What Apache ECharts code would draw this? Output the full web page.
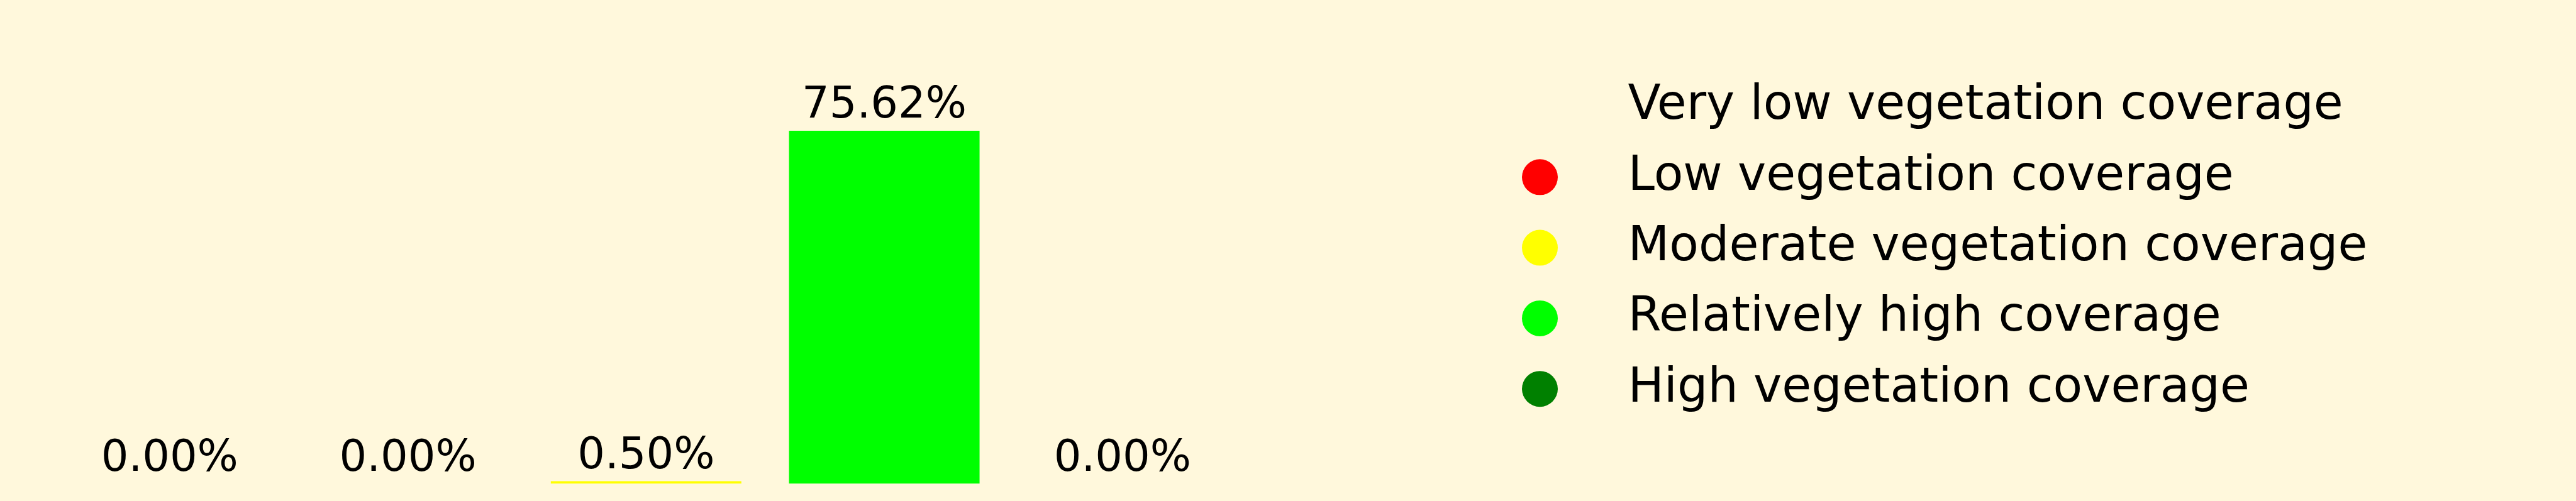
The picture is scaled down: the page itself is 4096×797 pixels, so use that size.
<!DOCTYPE html>
<html>
<head>
<meta charset="utf-8">
<script src="https://cdn.jsdelivr.net/npm/echarts@6/dist/echarts.min.js"></script>
<style>
html,body{margin:0;padding:0;background:#FFF8DC;}
#main{width:4096px;height:797px;}
</style>
</head>
<body>
<div id="main"></div>
<script>
var categories = ['Very low vegetation coverage', 'Low vegetation coverage', 'Moderate vegetation coverage', 'Relatively high coverage', 'High vegetation coverage'];
var values = [0.00, 0.00, 0.50, 75.62, 0.00];
var colors = ['#FFF8DC', '#FF0000', '#FFFF00', '#00FF00', '#008000'];

var series = categories.map(function (name, i) {
  return {
    type: 'bar',
    name: name,
    barWidth: '80%',
    barGap: '-100%',
    itemStyle: { color: colors[i] },
    label: {
      show: true,
      position: 'top',
      distance: 4,
      color: '#000',
      fontFamily: 'DejaVu Sans',
      fontSize: 68.7,
      formatter: function (p) { return p.value.toFixed(2) + '%'; }
    },
    data: categories.map(function (c, j) { return j === i ? values[i] : '-'; })
  };
});

var chart = echarts.init(document.getElementById('main'), null, { renderer: 'canvas' });
chart.setOption({
  backgroundColor: '#FFF8DC',
  animation: false,
  grid: { left: 80.4, width: 1893.8, top: 175.5, bottom: 27.8 },
  xAxis: { type: 'category', data: categories, show: false },
  yAxis: { type: 'value', min: 0, max: 80, show: false },
  legend: {
    orient: 'vertical',
    left: 2420,
    top: 122.5,
    padding: 0,
    itemWidth: 270,
    itemHeight: 57,
    itemGap: 18.3,
    icon: 'circle',
    textStyle: { fontFamily: 'DejaVu Sans', fontSize: 76.3, lineHeight: 76, padding: [18, 0, 0, 0], color: '#000' },
    data: categories
  },
  series: series
});
</script>
</body>
</html>
